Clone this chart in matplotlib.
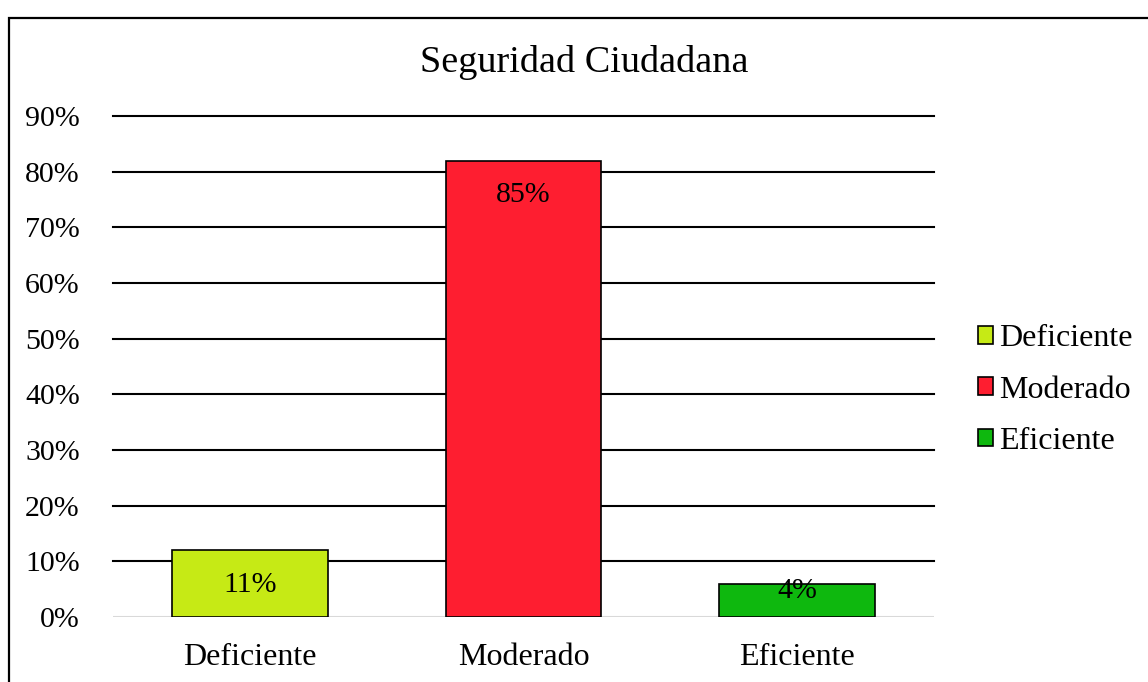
import matplotlib
matplotlib.use("Agg")
import matplotlib.pyplot as plt
from matplotlib.patches import Rectangle, Patch

plt.rcParams['font.family'] = ['Liberation Serif', 'DejaVu Serif']

categories = ['Deficiente', 'Moderado', 'Eficiente']
bar_values = [0.12, 0.82, 0.06]
bar_labels = ['11%', '85%', '4%']
colors = ['#C6EA15', '#FE1E30', '#0EB80E']
yticks = [0, 0.1, 0.2, 0.3, 0.4, 0.5, 0.6, 0.7, 0.8, 0.9]
ytick_labels = ['0%', '10%', '20%', '30%', '40%', '50%', '60%', '70%', '80%', '90%']

# label offsets from bar top, in points
label_offsets = [-25, -25, -5]

fig = plt.figure(figsize=(11.48, 6.82), dpi=100)
ax = fig.add_axes([113 / 1148, 1 - 617 / 682, (934 - 113) / 1148, (617 - 116) / 682])

x = range(len(categories))
ax.bar(x, bar_values, width=0.57, color=colors, edgecolor='black', linewidth=1.2, zorder=2)

for xi, v, lab, off in zip(x, bar_values, bar_labels, label_offsets):
    ax.annotate(lab, (xi, v), xytext=(0, off), textcoords='offset points',
                ha='center', va='center', fontsize=21.5, zorder=3)

ax.set_xlim(-0.5, 2.5)
ax.set_ylim(0, 0.9)
ax.set_yticks(yticks)
ax.set_yticklabels(ytick_labels, fontsize=21.5)
ax.set_xticks(list(x))
ax.set_xticklabels(categories, fontsize=23)
ax.tick_params(axis='y', length=0, pad=24)
ax.tick_params(axis='x', length=0, pad=19)
for s in ax.spines.values():
    s.set_visible(False)
ax.set_axisbelow(True)
ax.yaxis.grid(True, color='black', linewidth=1.5)
for gl in ax.get_ygridlines():
    gl.set_clip_on(False)
ax.axhline(0, color='#D9D9D9', linewidth=1.5, zorder=1.5)
ax.get_ygridlines()[0].set_visible(False)

fig.text(0.509, 1 - 62 / 682, 'Seguridad Ciudadana', ha='center', va='center', fontsize=27.5)

handles = [Patch(facecolor=c, edgecolor='black', linewidth=1.2) for c in colors]
fig.legend(handles, categories, loc='center left', bbox_to_anchor=(962 / 1148, 1 - 390 / 682),
           frameon=False, fontsize=23, handlelength=0.47, handleheight=0.47,
           handletextpad=0.2, labelspacing=0.7, borderpad=0)

fig.patches.append(Rectangle((9 / 1148, -0.1), 1.2, 1.1 - 18 / 682, transform=fig.transFigure,
                             fill=False, edgecolor='black', linewidth=1.6))

fig.savefig('out.png', dpi=100)
